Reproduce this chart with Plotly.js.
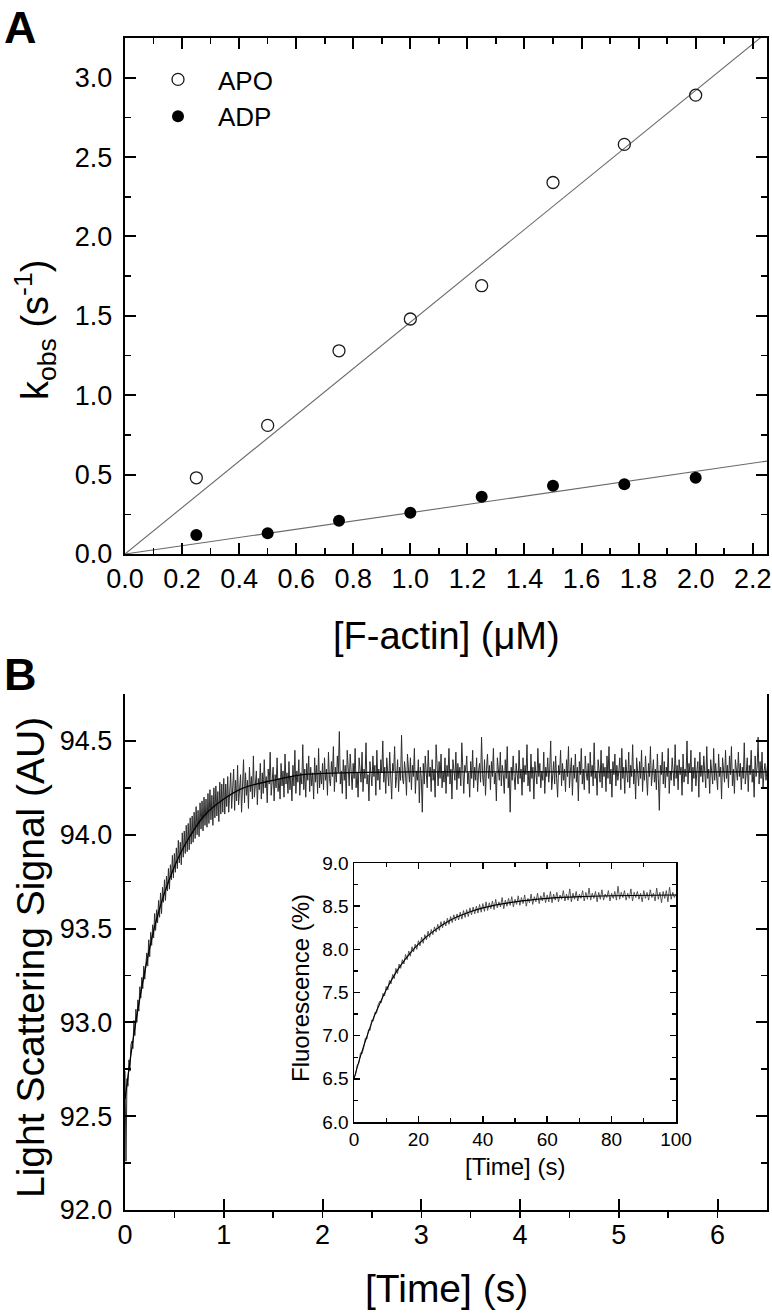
<!DOCTYPE html>
<html><head><meta charset="utf-8">
<script src="https://cdn.plot.ly/plotly-3.0.1.min.js"></script>
<style>html,body{margin:0;padding:0;background:#fff}#chart{width:772px;height:1315px}</style>
</head><body><div id="chart"></div>
<script>
// ---------- Panel A data ----------
const actinConc = [0.25, 0.5, 0.75, 1.0, 1.25, 1.5, 1.75, 2.0];
const apoKobs = [0.48, 0.81, 1.28, 1.48, 1.69, 2.34, 2.58, 2.89];
const adpKobs = [0.12, 0.13, 0.21, 0.26, 0.36, 0.43, 0.44, 0.48];
const fitConc = [0, 2.25];
const apoFitK = [0, 3.285];
const adpFitK = [0, 0.585];

// ---------- Panel B data ----------
const bTraceT0 = 0, bTraceDt = 0.01;
const bTrace = [
92.74,92.26,92.70,92.66,92.80,92.74,92.88,92.90,92.86,93.01,
92.93,93.07,93.00,93.12,93.06,93.19,93.13,93.24,93.18,93.30,
93.23,93.34,93.37,93.30,93.44,93.35,93.48,93.41,93.52,93.45,
93.58,93.49,93.60,93.53,93.65,93.56,93.69,93.58,93.72,93.64,
93.76,93.65,93.78,93.70,93.82,93.71,93.84,93.76,93.89,93.77,
93.90,93.80,93.93,93.82,93.97,93.85,93.96,93.84,94.01,93.88,
94.02,93.90,94.05,93.91,94.06,93.92,94.09,93.95,94.10,93.96,
94.12,93.98,94.15,94.00,94.13,93.99,94.17,94.03,94.18,94.02,
94.20,94.05,94.19,94.04,94.22,94.06,94.24,94.08,94.21,94.05,
94.25,94.09,94.26,94.10,94.23,94.07,94.28,94.11,94.27,94.12,
94.30,94.11,94.27,94.15,94.31,94.12,94.26,94.33,94.14,94.22,
94.35,94.13,94.29,94.18,94.37,94.16,94.24,94.32,94.12,94.30,
94.40,94.17,94.33,94.21,94.29,94.14,94.36,94.23,94.31,94.19,
94.42,94.20,94.28,94.34,94.16,94.30,94.24,94.38,94.19,94.33,
94.22,94.40,94.25,94.31,94.17,94.35,94.27,94.44,94.21,94.29,
94.36,94.18,94.32,94.25,94.41,94.23,94.30,94.19,94.38,94.26,
94.34,94.20,94.43,94.27,94.33,94.22,94.39,94.24,94.31,94.18,
94.37,94.26,94.45,94.22,94.34,94.28,94.40,94.21,94.33,94.27,
94.48,94.24,94.35,94.20,94.38,94.29,94.42,94.23,94.36,94.26,
94.33,94.19,94.41,94.28,94.37,94.22,94.46,94.25,94.34,94.27,
94.38,94.24,94.41,94.29,94.35,94.21,94.44,94.30,94.26,94.39,
94.31,94.47,94.23,94.36,94.28,94.42,94.33,94.55,94.27,94.34,
94.22,94.40,94.29,94.37,94.19,94.45,94.31,94.26,94.43,94.35,
94.24,94.38,94.30,94.46,94.25,94.33,94.20,94.41,94.36,94.28,
94.44,94.23,94.35,94.30,94.49,94.27,94.32,94.18,94.39,94.34,
94.26,94.42,94.31,94.37,94.21,94.45,94.29,94.35,94.24,94.40,
94.33,94.50,94.28,94.36,94.22,94.41,94.30,94.26,94.44,94.32,
94.19,94.38,94.34,94.47,94.25,94.31,94.40,94.23,94.36,94.29,
94.53,94.30,94.27,94.39,94.33,94.21,94.43,94.35,94.28,94.41,
94.24,94.37,94.31,94.46,94.22,94.34,94.29,94.40,94.17,94.36,
94.30,94.12,94.38,94.27,94.42,94.33,94.25,94.45,94.31,94.36,
94.23,94.40,94.29,94.35,94.20,94.48,94.32,94.26,94.39,94.30,
94.43,94.25,94.34,94.28,94.41,94.22,94.37,94.31,94.46,94.27,
94.35,94.19,94.40,94.33,94.29,94.44,94.24,94.38,94.30,94.36,
94.26,94.49,94.31,94.22,94.37,94.34,94.42,94.27,94.33,94.20,
94.39,94.30,94.45,94.25,94.36,94.29,94.41,94.23,94.34,94.38,
94.28,94.52,94.32,94.26,94.40,94.21,94.35,94.43,94.30,94.37,
94.24,94.39,94.31,94.46,94.27,94.33,94.18,94.41,94.35,94.29,
94.44,94.26,94.37,94.32,94.22,94.40,94.30,94.47,94.25,94.34,
94.12,94.36,94.29,94.42,94.31,94.24,94.38,94.33,94.27,94.45,
94.30,94.35,94.21,94.41,94.28,94.37,94.32,94.48,94.26,94.34,
94.23,94.43,94.30,94.36,94.19,94.39,94.33,94.27,94.46,94.31,
94.38,94.25,94.34,94.29,94.44,94.22,94.36,94.31,94.41,94.28,
94.35,94.50,94.24,94.33,94.39,94.27,94.42,94.30,94.20,94.37,
94.32,94.45,94.26,94.38,94.29,94.35,94.23,94.40,94.31,94.47,
94.25,94.34,94.41,94.21,94.37,94.30,94.43,94.28,94.36,94.18,
94.39,94.32,94.46,94.27,94.35,94.24,94.42,94.33,94.29,94.38,
94.22,94.44,94.31,94.37,94.26,94.49,94.30,94.34,94.21,94.40,
94.33,94.28,94.45,94.25,94.38,94.31,94.36,94.23,94.42,94.30,
94.47,94.27,94.35,94.20,94.39,94.32,94.43,94.26,94.37,94.29,
94.34,94.41,94.24,94.46,94.30,94.36,94.22,94.40,94.33,94.28,
94.44,94.25,94.37,94.31,94.48,94.27,94.35,94.19,94.41,94.32,
94.26,94.39,94.30,94.45,94.23,94.36,94.29,94.42,94.34,94.21,
94.38,94.31,94.47,94.26,94.33,94.40,94.28,94.35,94.24,94.43,
94.30,94.13,94.37,94.32,94.44,94.27,94.39,94.25,94.36,94.31,
94.46,94.22,94.34,94.29,94.41,94.33,94.26,94.48,94.30,94.37,
94.24,94.40,94.32,94.36,94.21,94.43,94.28,94.35,94.31,94.50,
94.27,94.38,94.33,94.45,94.23,94.36,94.30,94.41,94.26,94.34,
94.39,94.20,94.44,94.31,94.37,94.28,94.42,94.33,94.25,94.47,
94.30,94.35,94.22,94.40,94.34,94.27,94.46,94.29,94.38,94.32,
94.24,94.43,94.31,94.36,94.19,94.41,94.33,94.28,94.45,94.30,
94.37,94.25,94.42,94.32,94.47,94.26,94.35,94.22,94.40,94.34,
94.29,94.44,94.31,94.38,94.24,94.36,94.30,94.49,94.27,94.33,
94.41,94.23,94.37,94.32,94.45,94.28,94.35,94.20,94.42,94.31,
94.36,94.52,94.27,94.39,94.30,94.44,94.25,94.34,94.38,94.29,
94.35,94.40
];
const bFitT = [0, 0.05, 0.1, 0.2, 0.3, 0.4, 0.5, 0.6, 0.8, 1.0, 1.2, 1.5, 1.8, 2.2, 3, 6.5];
const bFitY = [92.59, 92.79, 92.97, 93.27, 93.51, 93.69, 93.83, 93.94, 94.10, 94.19, 94.25, 94.29, 94.32, 94.33, 94.335, 94.335];

// ---------- Inset data ----------
const insetT0 = 0, insetDt = 0.5;
const insetTrace = [
6.52,6.55,6.66,6.68,6.80,6.79,6.86,6.97,6.96,7.07,
7.06,7.18,7.17,7.27,7.26,7.36,7.40,7.38,7.49,7.46,
7.57,7.53,7.64,7.60,7.71,7.66,7.78,7.72,7.83,7.78,
7.88,7.83,7.94,7.88,7.98,7.92,8.03,7.97,8.06,8.00,
8.10,8.04,8.14,8.07,8.17,8.11,8.21,8.14,8.23,8.17,
8.26,8.20,8.29,8.22,8.32,8.25,8.33,8.27,8.36,8.29,
8.38,8.31,8.40,8.33,8.41,8.34,8.43,8.35,8.45,8.37,
8.46,8.38,8.48,8.40,8.49,8.41,8.50,8.42,8.52,8.43,
8.53,
8.44,8.55,8.45,8.54,8.47,8.56,8.46,8.58,8.48,8.55,
8.49,8.60,8.47,8.57,8.50,8.59,8.51,8.61,8.49,8.58,
8.52,8.62,8.51,8.60,8.53,8.63,8.50,8.59,8.54,8.64,
8.52,8.61,8.55,8.65,8.53,8.62,8.56,8.66,8.54,8.63,
8.55,8.67,8.54,8.64,8.57,8.66,8.55,8.63,8.58,8.68,
8.56,8.64,8.57,8.70,8.55,8.65,8.58,8.67,8.56,8.64,
8.59,8.68,8.56,8.66,8.58,8.71,8.57,8.65,8.59,8.67,
8.55,8.66,8.58,8.69,8.57,8.64,8.60,8.68,8.56,8.65,
8.59,8.67,8.57,8.73,8.58,8.66,8.60,8.68,8.57,8.65,
8.59,8.70,8.56,8.66,8.60,8.67,8.58,8.65,8.55,8.68,
8.59,8.66,8.57,8.69,8.60,8.65,8.56,8.71,8.58,8.66,
8.54,8.67,8.59,8.68,8.55,8.72,8.58,8.66,8.60,8.64
];
const insetFitT = [0, 2, 4, 6, 8, 10, 13, 16, 20, 25, 30, 35, 40, 50, 60, 70, 80, 100];
const insetFitY = [6.50, 6.76, 6.99, 7.20, 7.37, 7.53, 7.73, 7.89, 8.06, 8.22, 8.34, 8.42, 8.48, 8.55, 8.59, 8.61, 8.62, 8.63];

// ---------- Layout helpers ----------
const W = 772, H = 1315;
const FONT = 'Arial, "Liberation Sans", Helvetica, sans-serif';
const px = v => v / W;
const py = v => 1 - v / H;

function axis(extra) {
  return Object.assign({
    showline: true, linecolor: '#000', linewidth: 2, mirror: 'ticks',
    ticks: 'inside', tickcolor: '#000', tickwidth: 2, ticklen: 11,
    showgrid: false, zeroline: false,
    tickfont: {family: FONT, size: 27, color: '#000'}
  }, extra);
}
function minor(dtick, extra) {
  return Object.assign({dtick: dtick, ticks: 'inside', ticklen: 6, tickwidth: 1.6, tickcolor: '#000'}, extra || {});
}
function label(text, x, y, size, angle) {
  return {text: text, xref: 'paper', yref: 'paper', x: px(x), y: py(y), xanchor: 'center', yanchor: 'middle',
          textangle: angle || 0, showarrow: false, font: {family: FONT, size: size, color: '#000'}};
}

const traces = [
  {x: fitConc, y: apoFitK, xaxis: 'x', yaxis: 'y', mode: 'lines', line: {color: '#6a6a6a', width: 1.1}, showlegend: false},
  {x: fitConc, y: adpFitK, xaxis: 'x', yaxis: 'y', mode: 'lines', line: {color: '#6a6a6a', width: 1.1}, showlegend: false},
  {x: actinConc, y: apoKobs, xaxis: 'x', yaxis: 'y', mode: 'markers', name: 'APO',
   marker: {symbol: 'circle-open', size: 12, color: '#1a1a1a', line: {width: 1.3}}},
  {x: actinConc, y: adpKobs, xaxis: 'x', yaxis: 'y', mode: 'markers', name: 'ADP',
   marker: {symbol: 'circle', size: 12, color: '#000'}},
  {x0: bTraceT0, dx: bTraceDt, y: bTrace, xaxis: 'x2', yaxis: 'y2', mode: 'lines', line: {color: 'rgb(45,45,45)', width: 1}, showlegend: false},
  {x: bFitT, y: bFitY, xaxis: 'x2', yaxis: 'y2', mode: 'lines', line: {color: '#000', width: 1.3, shape: 'spline'}, showlegend: false},
  {x0: insetT0, dx: insetDt, y: insetTrace, xaxis: 'x4', yaxis: 'y3', mode: 'lines', line: {color: 'rgb(70,70,70)', width: 0.9}, showlegend: false},
  {x: insetFitT, y: insetFitY, xaxis: 'x4', yaxis: 'y3', mode: 'lines', line: {color: '#000', width: 1.1, shape: 'spline'}, showlegend: false}
];

const dx = [px(125), px(767)];
const ySuffix = '\u2009';
const layout = {
  width: W, height: H, margin: {l: 0, r: 0, t: 0, b: 0},
  paper_bgcolor: '#fff', plot_bgcolor: '#fff',
  font: {family: FONT, color: '#000'},
  showlegend: true,
  legend: {x: px(138), y: py(56), xanchor: 'left', yanchor: 'top', bgcolor: 'rgba(0,0,0,0)',
           font: {family: FONT, size: 26, color: '#000'}, itemwidth: 70, tracegroupgap: 0},
  // Panel A
  xaxis: axis({domain: dx, anchor: 'y', range: [0, 2.25], tick0: 0, dtick: 0.2, tickformat: '.1f', minor: minor(0.1)}),
  yaxis: axis({domain: [py(554), py(38)], anchor: 'x', range: [0, 3.25], tick0: 0, dtick: 0.5, tickformat: '.1f',
               ticksuffix: ySuffix, minor: minor(0.25)}),
  // Panel B
  xaxis2: axis({domain: dx, anchor: 'y2', range: [0, 6.5], tick0: 0, dtick: 1, mirror: false,
                minor: minor(0.5, {ticks: 'outside'})}),
  xaxis3: axis({domain: dx, anchor: 'y2', overlaying: 'x2', side: 'top', range: [0, 6.5], tick0: 0, dtick: 1,
                mirror: false, showticklabels: false, minor: minor(0.5)}),
  yaxis2: axis({domain: [py(1210), py(694)], anchor: 'x2', range: [92, 94.75], tick0: 92, dtick: 0.5, tickformat: '.1f',
                ticksuffix: ySuffix, minor: minor(0.25)}),
  // Inset
  xaxis4: axis({domain: [px(354), px(676)], anchor: 'y3', range: [0, 100], tick0: 0, dtick: 20,
                linewidth: 1.5, tickwidth: 1.5, ticklen: 6, tickfont: {family: FONT, size: 19, color: '#000'},
                minor: minor(10, {ticklen: 4, tickwidth: 1.2})}),
  yaxis3: axis({domain: [py(1122), py(863)], anchor: 'x4', range: [6, 9], tick0: 6, dtick: 0.5, tickformat: '.1f',
                linewidth: 1.5, tickwidth: 1.5, ticklen: 6, tickfont: {family: FONT, size: 19, color: '#000'},
                minor: minor(0.25, {ticklen: 4, tickwidth: 1.2})}),
  annotations: [
    {text: '<b>A</b>', xref: 'paper', yref: 'paper', x: px(2), y: py(0), xanchor: 'left', yanchor: 'top',
     showarrow: false, font: {family: FONT, size: 45, color: '#000'}},
    {text: '<b>B</b>', xref: 'paper', yref: 'paper', x: px(2), y: py(647), xanchor: 'left', yanchor: 'top',
     showarrow: false, font: {family: FONT, size: 45, color: '#000'}},
    label('[F-actin] (μM)', 446, 636, 38),
    label('k<sub>obs</sub> (s<sup>-1</sup>)', 35, 330, 38, -90),
    label('[Time] (s)', 446, 1288, 39),
    label('Light Scattering Signal (AU)', 30, 958, 39, -90),
    label('[Time] (s)', 515, 1166, 24),
    label('Fluorescence (%)', 300, 988, 24, -90)
  ]
};

Plotly.newPlot('chart', traces, layout, {staticPlot: true, displayModeBar: false});
</script>
</body></html>
